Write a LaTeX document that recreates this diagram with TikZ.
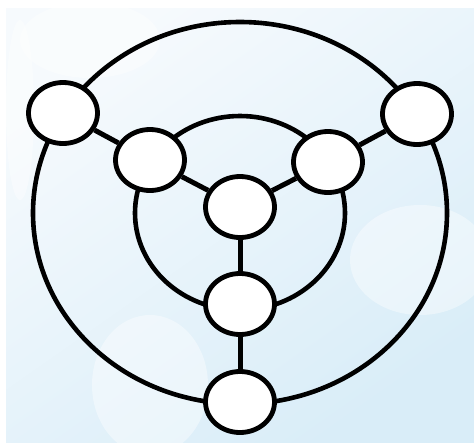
\documentclass[tikz,border=0pt]{standalone}
\usetikzlibrary{shapes.geometric}
\definecolor{bgblue}{HTML}{D9EDF8}
\definecolor{bglight}{HTML}{F6FAFD}
\tikzset{
  vtx/.style={ellipse, draw=black, fill=white, line width=4.8pt, minimum width=69pt, minimum height=61pt, inner sep=0pt},
  ring/.style={draw=black, line width=4.6pt},
  edge/.style={draw=black, line width=5pt},
  blob/.style={fill=white, opacity=0.4}
}
\begin{document}
\begin{tikzpicture}[x=1pt,y=-1pt]
\useasboundingbox (0,0) rectangle (474,445);
\fill[white] (0,0) rectangle (474,445);
\shade[bottom color=bgblue, top color=bglight, shading angle=35] (6,8) rectangle (474,442);
% faint watermark shapes
\fill[blob] (150,385) ellipse [x radius=58pt, y radius=70pt];
\fill[blob] (420,260) ellipse [x radius=70pt, y radius=55pt];
\fill[blob] (90,40) ellipse [x radius=70pt, y radius=38pt];
\fill[blob] (20,110) ellipse [x radius=14pt, y radius=90pt];
% rings
\coordinate (oc) at (240,213);
\draw[ring] (oc) ellipse [x radius=207pt, y radius=191pt];
\draw[ring] (oc) ellipse [x radius=105pt, y radius=97pt];
% vertices
\node[vtx] (lo) at (63,113) {};
\node[vtx] (ro) at (417,114) {};
\node[vtx] (lm) at (150,160) {};
\node[vtx] (rm) at (328,162) {};
\node[vtx] (c) at (240,207) {};
\node[vtx] (m) at (240,304) {};
\node[vtx] (b) at (240,402) {};
% connectors
\draw[edge] (lo) -- (lm);
\draw[edge] (ro) -- (rm);
\draw[edge] (lm) -- (c);
\draw[edge] (rm) -- (c);
\draw[edge] (c) -- (m);
\draw[edge] (m) -- (b);
\end{tikzpicture}
\end{document}
